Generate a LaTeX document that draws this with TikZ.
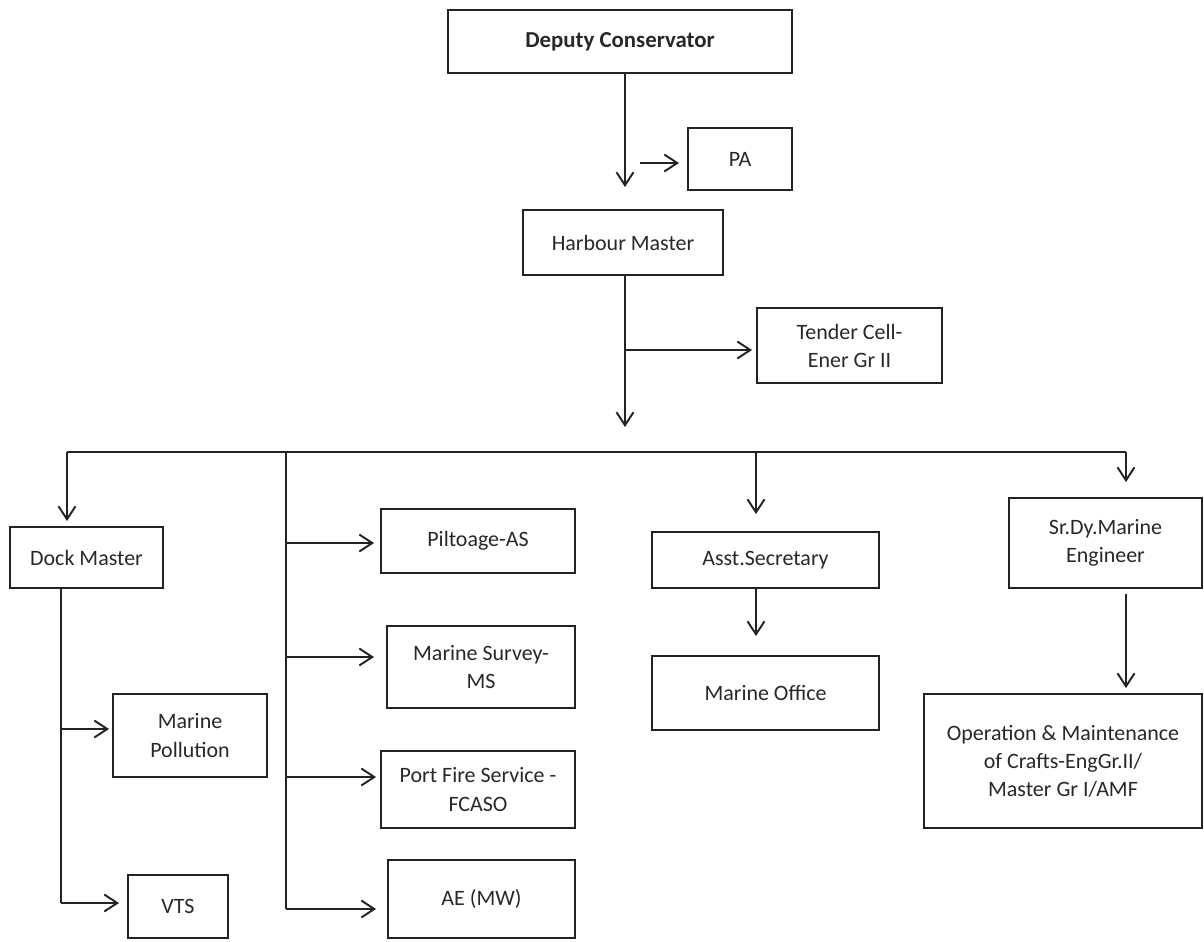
\documentclass[tikz,border=0pt]{standalone}
\usepackage{fontspec}
\setmainfont{Carlito}
\usetikzlibrary{arrows.meta}
\definecolor{cLine}{RGB}{35,35,35}
\definecolor{cText}{RGB}{40,40,40}

\begin{document}
\begin{tikzpicture}[x=0.02cm, y=-0.02cm,
        box/.style={draw=cLine, line width=1.1pt, align=center, inner sep=0pt,
            text=cText, font=\fontsize{12.5}{16}\selectfont},
        link/.style={draw=cLine, line width=1.1pt},
        arr/.style={link, -{Straight Barb[length=0.26cm, width=0.34cm]}}]
        \useasboundingbox (0,0) rectangle (1204,941);

        % top of the chart
        \node[box, minimum width=6.88cm, minimum height=1.26cm, font=\fontsize{13}{16}\selectfont\bfseries] (dc) at (620,41.5) {Deputy Conservator};
        \node[box, minimum width=2.08cm, minimum height=1.24cm] (pa) at (740,159) {PA};
        \node[box, minimum width=4.0cm, minimum height=1.3cm] (hm) at (623,242.5) {Harbour Master};
        \node[box, minimum width=3.7cm, minimum height=1.5cm] (tender) at (849.5,345.5) {Tender Cell-\\Ener Gr II};

        \coordinate (dcEnd) at (625,187);
        \coordinate (paStart) at (640,163);
        \coordinate (hmEnd) at (625,427);
        \coordinate (tenderFork) at (625,350);
        \draw[arr] (dcEnd |- dc.south) -- (dcEnd);
        \draw[arr, shorten >=0.16cm] (paStart) -- (paStart -| pa.west);
        \draw[arr] (hmEnd |- hm.south) -- (hmEnd);
        \draw[arr, shorten >=0.08cm] (tenderFork) -- (tenderFork -| tender.west);

        % dock master side
        \node[box, minimum width=3.06cm, minimum height=1.22cm] (dock) at (86.5,557.5) {Dock Master};
        \node[box, minimum width=3.08cm, minimum height=1.66cm] (pollution) at (190,735.5) {Marine\\Pollution};
        \node[box, minimum width=2.0cm, minimum height=1.26cm] (vts) at (178,906.5) {VTS};

        % middle column
        \node[box, minimum width=3.88cm, minimum height=1.28cm] (pilot) at (478,541) {Piltoage-AS};
        \node[box, minimum width=3.76cm, minimum height=1.64cm] (survey) at (481,667) {Marine Survey-\\MS};
        \node[box, minimum width=3.88cm, minimum height=1.54cm] (fire) at (478,789.5) {Port Fire Service -\\FCASO};
        \node[box, minimum width=3.74cm, minimum height=1.56cm] (ae) at (481.5,899) {AE (MW)};

        % right side
        \node[box, minimum width=4.54cm, minimum height=1.12cm] (asst) at (765.5,560) {Asst.Secretary};
        \node[box, minimum width=4.54cm, minimum height=1.48cm] (office) at (765.5,693) {Marine Office};
        \node[box, minimum width=3.86cm, minimum height=1.8cm] (srdy) at (1105.5,543) {Sr.Dy.Marine\\Engineer};
        \node[box, minimum width=5.56cm, minimum height=2.68cm] (ops) at (1063,761) {Operation \& Maintenance\\of Crafts-EngGr.II/\\Master Gr I/AMF};

        % the long bar
        \coordinate (busL) at (67,452);
        \coordinate (busM) at (286,452);
        \coordinate (busA) at (756,452);
        \coordinate (busR) at (1126,452);
        \draw[link] (busL) -- (busR);
        \draw[arr, shorten >=0.1cm] (busL) -- (busL |- dock.north);
        \draw[arr, shorten >=0.34cm] (busA) -- (busA |- asst.north);
        \draw[arr, shorten >=0.3cm] (busR) -- (busR |- srdy.north);
        \draw[arr, shorten >=0.38cm] (busA |- asst.south) -- (busA |- office.north);
        \draw[arr, shorten >=0.1cm, shorten <=0.1cm] (busR |- srdy.south) -- (busR |- ops.north);

        % branches under dock master
        \coordinate (dockFork) at (61,729);
        \coordinate (dockEnd) at (61,903);
        \draw[link] (dockEnd |- dock.south) -- (dockEnd);
        \draw[arr, shorten >=0.06cm] (dockFork) -- (dockFork -| pollution.west);
        \draw[arr, shorten >=0.16cm] (dockEnd) -- (dockEnd -| vts.west);

        % branches of the middle column
        \draw[link] (busM) -- (286,909);
        \foreach \n/\y/\g in {pilot/543/0.12, survey/657/0.24, fire/777/0.08, ae/909/0.22}
            \draw[arr, shorten >=\g cm] (286,\y) -- (\n.west |- 0,\y);
\end{tikzpicture}
\end{document}
